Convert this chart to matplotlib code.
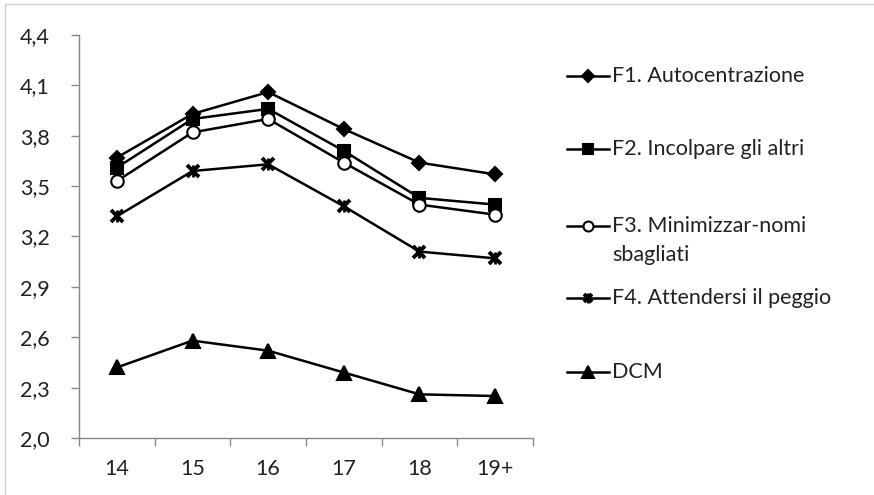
import matplotlib
matplotlib.use("Agg")
import matplotlib.pyplot as plt
from matplotlib.lines import Line2D
from matplotlib.patches import Rectangle

# Age groups on the x axis
ages = ["14", "15", "16", "17", "18", "19+"]

# Mean scores per age group
f1_autocentrazione = [3.67, 3.93, 4.06, 3.84, 3.64, 3.57]
f2_incolpare = [3.61, 3.90, 3.96, 3.71, 3.43, 3.39]
f3_minimizzare = [3.53, 3.82, 3.90, 3.64, 3.39, 3.33]
f4_attendersi = [3.32, 3.59, 3.63, 3.38, 3.11, 3.07]
dcm = [2.42, 2.58, 2.52, 2.39, 2.26, 2.25]

labels = ["F1. Autocentrazione", "F2. Incolpare gli altri",
          "F3. Minimizzar-nomi\nsbagliati", "F4. Attendersi il peggio", "DCM"]
y_ticks = [2.0, 2.3, 2.6, 2.9, 3.2, 3.5, 3.8, 4.1, 4.4]

plt.rcParams['font.family'] = ['Lato', 'DejaVu Sans']
FS = 15.5
TXT = "#222222"

# each marker is a list of (marker, size, face, edge width) layers;
# the star is an X with a vertical bar on top
styles = [
    [("D", 7.5, "black", 1.5)],
    [("s", 8.5, "black", 1.5)],
    [("o", 9, "white", 1.5)],
    [("x", 8, "black", 2.8), ("|", 9, "black", 2.0)],
    [("^", 10, "black", 1.5)],
]
series = [f1_autocentrazione, f2_incolpare, f3_minimizzare, f4_attendersi, dcm]

W, H = 874, 495
fig = plt.figure(figsize=(W / 100, H / 100), dpi=100)
ax = fig.add_axes([79 / W, 1 - 438 / H, (533 - 79) / W, (438 - 35) / H])

x = list(range(len(ages)))
for vals, layers in zip(series, styles):
    ax.plot(x, vals, color="black", lw=1.8)
    for m, ms, fc, mew in layers:
        ax.plot(x, vals, ls="none", marker=m, ms=ms, mfc=fc, mec="black", mew=mew)

ax.set_xlim(-0.5, len(ages) - 0.5)
ax.set_ylim(2.0, 4.4)
ax.set_yticks(y_ticks)
ax.set_yticklabels([f"{v:.1f}".replace(".", ",") for v in y_ticks])
ax.set_xticks(x)
ax.set_xticklabels(ages)
ax.set_xticks([i - 0.5 for i in range(len(ages) + 1)], minor=True)
ax.tick_params(axis="x", which="major", length=0, pad=15, labelsize=FS, colors=TXT)
ax.tick_params(axis="x", which="minor", length=6, color="#888888", width=1)
ax.tick_params(axis="y", length=6, color="#888888", width=1, pad=15, labelsize=FS,
               labelcolor=TXT)
for s in ["top", "right"]:
    ax.spines[s].set_visible(False)
for s in ["left", "bottom"]:
    ax.spines[s].set_color("#888888")
    ax.spines[s].set_linewidth(1)

# chart area border
fig.patches.append(Rectangle((5 / W, -0.1), 1.2, 1 - 4 / H + 0.1, transform=fig.transFigure,
                             fill=False, ec="#d0d0d0", lw=1))

# legend entries, marker aligned with the first text line
legend_y = [76, 149, 226, 298, 372]
for lab, layers, ly in zip(labels, styles, legend_y):
    yf = 1 - ly / H
    fig.add_artist(Line2D([567 / W, 609 / W], [yf, yf], transform=fig.transFigure,
                          color="black", lw=1.8))
    for m, ms, fc, mew in layers:
        fig.add_artist(Line2D([588 / W], [yf], transform=fig.transFigure, ls="none",
                              marker=m, ms=ms * 0.8, mfc=fc, mec="black", mew=mew))
    if "\n" in lab:
        fig.text(612 / W, yf + 10 / H, lab, ha="left", va="top", fontsize=FS,
                 color=TXT, linespacing=1.55)
    else:
        fig.text(612 / W, yf, lab, ha="left", va="center", fontsize=FS, color=TXT)

fig.savefig("out.png", dpi=100, facecolor="white")
